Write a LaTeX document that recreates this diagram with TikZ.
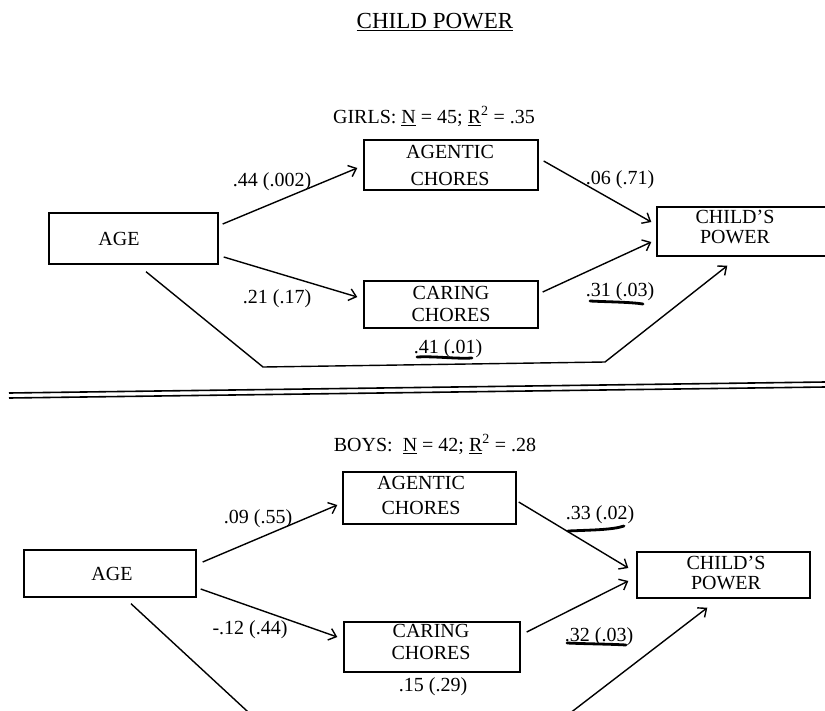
\documentclass[tikz,border=0pt]{standalone}
\usepackage{fontspec}
\setmainfont{Liberation Serif}
\usetikzlibrary{arrows.meta,calc}
\begin{document}
\begin{tikzpicture}[x=1pt,y=-1pt,
  box/.style={draw, line width=1.4pt, inner sep=0pt},
  txt/.style={align=center, inner sep=0pt, font=\fontsize{20}{23}\selectfont},
  lbl/.style={inner sep=0pt, text height=13pt, text depth=0pt, font=\fontsize{20}{23}\selectfont},
  conn/.style={line width=1.4pt, -{Straight Barb[length=7pt,width=12pt,line width=1.4pt]}},
  hand/.style={line width=2.8pt, line cap=round},
  rule/.style={line width=1.6pt}
]
\useasboundingbox (0,0) rectangle (825,710);
\clip (0,0) rectangle (825,710);

% title
\node[inner sep=0pt, font=\fontsize{23}{25}\selectfont, text height=15pt, text depth=0pt] (title) at (435,21) {\underline{CHILD POWER}};

% ---------------- GIRLS ----------------
\node[lbl] (gh) at (434,117) {GIRLS: \underline{N} = 45; \underline{R}\textsuperscript{2} = .35};

\node[box, minimum width=169pt, minimum height=51pt] (gage) at (133.5,238.5) {};
\node[txt] (gaget) at (119,238.5) {AGE};
\node[box, minimum width=174pt, minimum height=50pt] (gag) at (451,165) {};
\node[txt] (gagt) at (450,165.5) {AGENTIC\\[4pt]CHORES};
\node[box, minimum width=174pt, minimum height=47pt] (gcar) at (451,304.5) {};
\node[txt] (gcart) at (451,304) {CARING\\[-1pt]CHORES};
\node[box, minimum width=183pt, minimum height=49pt] (gcp) at (748.5,231.5) {};
\node[txt] (gcpt) at (735,227) {CHILD'S\\[-3pt]POWER};

\draw[conn] ([shift={(4,-14.5)}]gage.east) -- ([shift={(-6,3)}]gag.west);
\draw[conn] ([shift={(5,18.5)}]gage.east) -- ([shift={(-6,-7.5)}]gcar.west);
\draw[conn] ([shift={(5,-4)}]gag.east) -- ([shift={(-5,-9.5)}]gcp.west);
\draw[conn] ([shift={(4,-12.5)}]gcar.east) -- ([shift={(-5,10.5)}]gcp.west);
\coordinate (gc1) at (263,367);
\coordinate (gc2) at (605,362);
\draw[conn] ([shift={(12.5,7)}]gage.south) -- (gc1) -- (gc2) -- ([shift={(71,9)}]gcp.south west);

\node[lbl] (gl1) at (272,180) {.44 (.002)};
\node[lbl] (gl2) at (277,297) {.21 (.17)};
\node[lbl] (gl3) at (620,178) {.06 (.71)};
\node[lbl] (gl4) at (620,290) {.31 (.03)};
\node[lbl] (gl5) at (448,347) {.41 (.01)};
\draw[hand] (590,301) .. controls (610,302) and (630,302) .. (643,304);
\draw[hand] (417,357) .. controls (435,356) and (455,359) .. (472,358);

% separator
\draw[rule] (9,393) -- (825,382);
\draw[rule] (9,398) -- (825,387);

% ---------------- BOYS ----------------
\node[lbl] (bh) at (435,445) {BOYS:\ \ \underline{N} = 42; \underline{R}\textsuperscript{2} = .28};

\node[box, minimum width=172pt, minimum height=47pt] (bage) at (110,573.5) {};
\node[txt] (baget) at (112,574) {AGE};
\node[box, minimum width=173pt, minimum height=52pt] (bag) at (429.5,498) {};
\node[txt] (bagt) at (421,495.5) {AGENTIC\\[2pt]CHORES};
\node[box, minimum width=176pt, minimum height=50pt] (bcar) at (432,647) {};
\node[txt] (bcart) at (431,642) {CARING\\[-1pt]CHORES};
\node[box, minimum width=173pt, minimum height=46pt] (bcp) at (723.5,575) {};
\node[txt] (bcpt) at (726,573) {CHILD'S\\[-3pt]POWER};

\draw[conn] ([shift={(6,-11.5)}]bage.east) -- ([shift={(-5,7)}]bag.west);
\draw[conn] ([shift={(4,15.5)}]bage.east) -- ([shift={(-6,-10)}]bcar.west);
\draw[conn] ([shift={(2,4)}]bag.east) -- ([shift={(-8,-7)}]bcp.west);
\draw[conn] ([shift={(6,-15)}]bcar.east) -- ([shift={(-8,6)}]bcp.west);
\coordinate (bc1) at (300,760);
\coordinate (bc2) at (509,760);
\draw[conn] ([shift={(21,6)}]bage.south) -- (bc1) -- (bc2) -- ([shift={(71,9)}]bcp.south west);

\node[lbl] (bl1) at (258,517) {.09 (.55)};
\node[lbl] (bl2) at (250,628) {-.12 (.44)};
\node[lbl] (bl3) at (600,513) {.33 (.02)};
\node[lbl] (bl4) at (599,635) {.32 (.03)};
\node[lbl] (bl5) at (433,685) {.15 (.29)};
\draw[hand] (568,531) .. controls (590,530) and (612,530) .. (624,526);
\draw[hand] (567,643) .. controls (590,644) and (610,644) .. (626,645);
\end{tikzpicture}
\end{document}
